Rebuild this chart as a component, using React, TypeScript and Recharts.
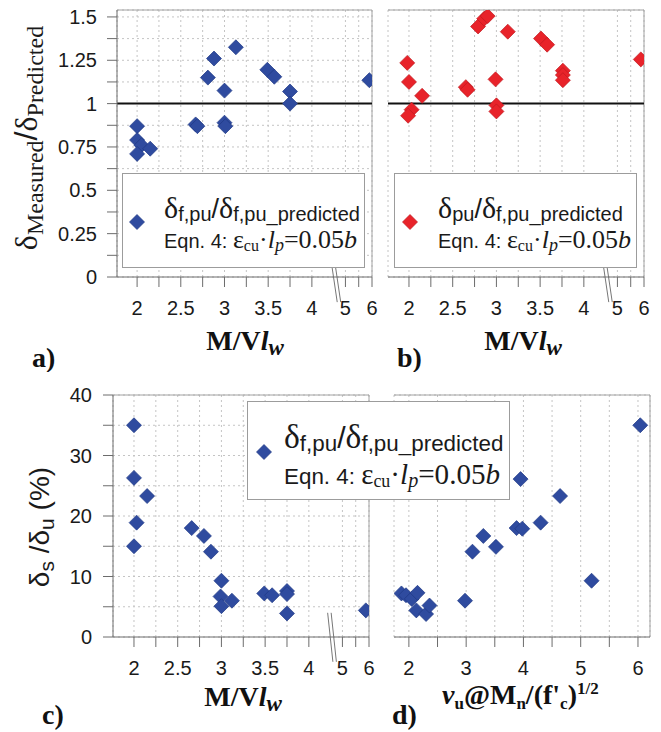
import React from 'react';
import { ScatterChart, Scatter, XAxis, YAxis, CartesianGrid, ReferenceLine, Legend } from 'recharts';

// ---------------- data ----------------
// Panel a: delta_f,pu / delta_f,pu_predicted vs M/Vlw
const aMVl = [2.0, 2.0, 2.05, 2.0, 2.15, 2.67, 2.69, 2.81, 2.88, 3.0, 3.0, 3.01, 3.13, 3.49, 3.57, 3.75, 3.75, 5.9];
const aRatio = [0.87, 0.79, 0.76, 0.71, 0.74, 0.88, 0.87, 1.15, 1.26, 1.075, 0.89, 0.87, 1.325, 1.195, 1.155, 1.07, 1.0, 1.135];

// Panel b: delta_pu / delta_f,pu_predicted vs M/Vlw
const bMVl = [1.98, 2.0, 2.15, 2.03, 1.99, 2.65, 2.67, 2.79, 2.86, 2.9, 3.13, 2.99, 3.0, 3.0, 3.51, 3.58, 3.76, 3.76, 3.76, 5.88];
const bRatio = [1.235, 1.125, 1.045, 0.965, 0.93, 1.095, 1.08, 1.445, 1.49, 1.505, 1.415, 1.14, 0.99, 0.955, 1.375, 1.34, 1.19, 1.165, 1.135, 1.255];

// Panel c: delta_s/delta_u (%) vs M/Vlw
const cMVl = [2.0, 2.0, 2.15, 2.03, 2.0, 2.66, 2.8, 2.88, 3.0, 2.99, 3.0, 3.12, 3.49, 3.58, 3.75, 3.75, 3.75, 5.88];
const cDrift = [35.0, 26.3, 23.3, 18.9, 15.0, 18.0, 16.7, 14.1, 9.3, 6.7, 5.1, 6.0, 7.2, 6.9, 7.6, 7.1, 3.9, 4.4];

// Panel d: delta_s/delta_u (%) vs vu@Mn/(f'c)^1/2
const dShear = [6.04, 3.95, 4.64, 4.3, 3.88, 3.98, 3.3, 3.52, 3.11, 5.19, 2.98, 1.87, 1.95, 2.05, 2.15, 2.13, 2.3, 2.36];
const dDrift = [35.0, 26.1, 23.3, 18.9, 18.0, 17.9, 16.7, 14.9, 14.1, 9.3, 6.0, 7.2, 6.9, 6.3, 7.3, 4.4, 3.8, 5.2];

// ---------------- ticks ----------------
const mvlTickValues = [2, 2.25, 2.5, 2.75, 3, 3.25, 3.5, 3.75, 4, 5, 5.5, 6];
const mvlTickLabels = ['2', '', '2.5', '', '3', '', '3.5', '', '4', '5', '', '6'];
const ratioTickValues = [0, 0.125, 0.25, 0.375, 0.5, 0.625, 0.75, 0.875, 1, 1.125, 1.25, 1.375, 1.5];
const ratioTickLabels = ['0', '', '0.25', '', '0.5', '', '0.75', '', '1', '', '1.25', '', '1.5'];
const driftTickValues = [0, 5, 10, 15, 20, 25, 30, 35, 40];
const driftTickLabels = ['0', '', '10', '', '20', '', '30', '', '40'];
const shearTickValues = [2, 2.5, 3, 3.5, 4, 4.5, 5, 5.5, 6];
const shearTickLabels = ['2', '', '3', '', '4', '', '5', '', '6'];

// ---------------- broken M/Vlw axis ----------------
const BREAK_LOW = 4;
const BREAK_HIGH = 5;
const BREAK_GAP = 0.384;
const COMPRESS = 0.304;
const toAxis = (v: number) =>
  v <= BREAK_LOW
    ? v
    : v >= BREAK_HIGH
    ? BREAK_LOW + BREAK_GAP + (v - BREAK_HIGH) * COMPRESS
    : BREAK_LOW + ((v - BREAK_LOW) / (BREAK_HIGH - BREAK_LOW)) * BREAK_GAP;
const MVL_MAX = toAxis(6);

const makeFmt = (values: number[], labels: string[], map: (v: number) => number = (v) => v) => (v: number) => {
  const i = values.findIndex((t) => Math.abs(map(t) - v) < 1e-6);
  return i >= 0 ? labels[i] : '';
};
const fmtMvl = makeFmt(mvlTickValues, mvlTickLabels, toAxis);
const fmtRatio = makeFmt(ratioTickValues, ratioTickLabels);
const fmtDrift = makeFmt(driftTickValues, driftTickLabels);
const fmtShear = makeFmt(shearTickValues, shearTickLabels);
const mvlTicks = mvlTickValues.map(toAxis);

const aData = aMVl.map((x, i) => ({ x: toAxis(x), y: aRatio[i] }));
const bData = bMVl.map((x, i) => ({ x: toAxis(x), y: bRatio[i] }));
const cData = cMVl.map((x, i) => ({ x: toAxis(x), y: cDrift[i] }));
const dData = dShear.map((x, i) => ({ x, y: dDrift[i] }));

// ---------------- styles ----------------
const SERIF = '"Liberation Serif", "Times New Roman", serif';
const SANS = '"Liberation Sans", Arial, sans-serif';
const BLUE = '#2f4b9f';
const BLUE_EDGE = '#203a85';
const RED = '#e8232a';
const RED_EDGE = '#c01a20';
const AXIS = '#6c6c6c';
const FRAME = '#a2a2a2';
const GRID = '#c4c4c4';
const TICK = { fill: '#1a1a1a', fontSize: 20, fontFamily: SANS };

const diamondShape = (fill: string, edge: string, r = 7.5) => (p: any) => {
  const { cx, cy } = p;
  if (typeof cx !== 'number' || typeof cy !== 'number') return <g />;
  return (
    <path
      d={`M${cx} ${cy - r}L${cx + r} ${cy}L${cx} ${cy + r}L${cx - r} ${cy}Z`}
      fill={fill}
      stroke={edge}
      strokeWidth={0.7}
    />
  );
};
const blueDiamond = diamondShape(BLUE, BLUE_EDGE);
const redDiamond = diamondShape(RED, RED_EDGE);

// break marks "//" on the M/Vlw axis, in axis units
const breakMarks = (c: number, yTop: number, yBottom: number) =>
  [0, 0.04].map((d) => (
    <ReferenceLine
      key={`brk${d}`}
      segment={[
        { x: c - 0.03 + d, y: yTop },
        { x: c + 0.03 + d, y: yBottom },
      ]}
      stroke="#777"
      strokeWidth={1}
      ifOverflow="visible"
    />
  ));

// ---------------- titles ----------------
const MvlTitle = (props: any) => {
  const { titleX, titleY, tag, tagX, tagY } = props;
  return (
    <g>
      <text x={titleX} y={titleY} textAnchor="middle" fontFamily={SERIF} fontWeight="bold" fontSize={28} fill="#111">
        M/V
        <tspan fontStyle="italic">l</tspan>
        <tspan fontStyle="italic" fontSize={23} dy={5}>
          w
        </tspan>
      </text>
      <text x={tagX} y={tagY} fontFamily={SERIF} fontWeight="bold" fontSize={28} fill="#111">
        {tag}
      </text>
    </g>
  );
};

const ShearTitle = (props: any) => {
  const { titleX, titleY, tag, tagX, tagY } = props;
  return (
    <g>
      <text x={titleX} y={titleY} fontFamily={SERIF} fontWeight="bold" fontSize={28} fill="#111">
        <tspan fontStyle="italic">v</tspan>
        <tspan fontSize={17} dy={5}>u</tspan>
        <tspan dy={-5}>@M</tspan>
        <tspan fontSize={17} dy={5}>n</tspan>
        <tspan dy={-5}>/(f'</tspan>
        <tspan fontSize={17} dy={5}>c</tspan>
        <tspan dy={-5}>)</tspan>
        <tspan fontSize={17} dy={-10}>1/2</tspan>
      </text>
      <text x={tagX} y={tagY} fontFamily={SERIF} fontWeight="bold" fontSize={28} fill="#111">
        {tag}
      </text>
    </g>
  );
};

const RatioTitle = () => (
  <text transform="rotate(-90)" x={-138} y={37} textAnchor="middle" fontFamily={SERIF} fontSize={32} fill="#1a1a1a">
    δ
    <tspan fontSize={24} dy={6}>Measured</tspan>
    <tspan fontFamily={SANS} dy={-6}>/</tspan>
    <tspan>δ</tspan>
    <tspan fontSize={24} dy={6}>Predicted</tspan>
  </text>
);

const DriftTitle = () => (
  <text transform="rotate(-90)" x={-155} y={49} textAnchor="middle" fontFamily={SANS} fontSize={28} fill="#1a1a1a">
    δ
    <tspan fontSize={21} dy={5}>s</tspan>
    <tspan dy={-5}> /δ</tspan>
    <tspan fontSize={21} dy={5}>u</tspan>
    <tspan dy={-5}> (%)</tspan>
  </text>
);

// ---------------- legend boxes ----------------
type LegendSpec = {
  fill: string;
  edge: string;
  first: string;
  s: number;
  mx: number;
  my: number;
  tx: number;
  t1: number;
  t2: number;
};

const LegendBox = ({ spec }: { spec: LegendSpec }) => {
  const s = spec.s;
  const sub = (txt: string, size: number, family = SANS, italic = false) => (
    <span
      style={{
        fontFamily: family,
        fontSize: size * s,
        position: 'relative',
        top: 3 * s,
        fontStyle: italic ? 'italic' : 'normal',
      }}
    >
      {txt}
    </span>
  );
  return (
    <div
      style={{
        width: '100%',
        height: '100%',
        boxSizing: 'border-box',
        background: '#fff',
        border: '1px solid #9c9c9c',
        position: 'relative',
        color: '#1a1a1a',
      }}
    >
      <svg width={20} height={20} style={{ position: 'absolute', left: spec.mx - 10, top: spec.my - 10 }}>
        <path d="M10 2.5L17.5 10L10 17.5L2.5 10Z" fill={spec.fill} stroke={spec.edge} strokeWidth={0.7} />
      </svg>
      <div
        style={{
          position: 'absolute',
          left: spec.tx,
          top: spec.t1,
          whiteSpace: 'nowrap',
          lineHeight: 1,
          fontFamily: SERIF,
          fontSize: 30 * s,
        }}
      >
        δ{sub(spec.first, 20)}
        <span style={{ fontFamily: SANS, fontSize: 27 * s }}>/</span>δ{sub('f,pu_predicted', 20)}
      </div>
      <div
        style={{
          position: 'absolute',
          left: spec.tx,
          top: spec.t2,
          whiteSpace: 'nowrap',
          lineHeight: 1,
          fontFamily: SERIF,
          fontSize: 26 * s,
        }}
      >
        <span style={{ fontFamily: SANS, fontSize: 20 * s }}>Eqn. 4: </span>ε{sub('cu', 16, SERIF)}·
        <i>l</i>
        {sub('p', 18, SERIF, true)}=0.05<i>b</i>
      </div>
    </div>
  );
};

const legendA: LegendSpec = { fill: BLUE, edge: BLUE_EDGE, first: 'f,pu', s: 1, mx: 14, my: 48, tx: 41, t1: 19, t2: 53 };
const legendB: LegendSpec = { fill: RED, edge: RED_EDGE, first: 'pu', s: 1, mx: 15, my: 48, tx: 43, t1: 19, t2: 53 };
const legendC: LegendSpec = { fill: BLUE, edge: BLUE_EDGE, first: 'f,pu', s: 1.12, mx: 16, my: 50, tx: 36, t1: 18, t2: 58 };

export default function App() {
  return (
    <div style={{ position: 'absolute', left: 0, top: 0, width: 661, height: 732, background: '#fff', overflow: 'hidden' }}>
      {/* Panel a */}
      <div style={{ position: 'absolute', left: 0, top: 0 }}>
        <ScatterChart width={380} height={372} margin={{ top: 10, right: 8, bottom: 0, left: 0 }}>
          <CartesianGrid stroke={GRID} strokeDasharray="2 3" />
          <XAxis
            type="number"
            dataKey="x"
            domain={[1.77, MVL_MAX]}
            allowDataOverflow
            ticks={mvlTicks}
            interval={0}
            tickFormatter={fmtMvl}
            height={95}
            tickSize={10}
            tickMargin={14}
            stroke={AXIS}
            tick={TICK}
            label={<MvlTitle titleX={245} titleY={350} tag="a)" tagX={32} tagY={367} />}
          />
          <YAxis
            type="number"
            dataKey="y"
            domain={[0, 1.54]}
            allowDataOverflow
            ticks={ratioTickValues}
            interval={0}
            tickFormatter={fmtRatio}
            width={117}
            tickSize={10}
            tickMargin={10}
            stroke={AXIS}
            tick={TICK}
            label={<RatioTitle />}
          />
          <ReferenceLine y={1.54} stroke={FRAME} ifOverflow="visible" />
          <ReferenceLine x={MVL_MAX} stroke={FRAME} ifOverflow="visible" />
          <ReferenceLine y={1} stroke="#111" strokeWidth={2} />
          {breakMarks(4.26, 0.06, -0.145)}
          <Scatter data={aData} shape={blueDiamond} isAnimationActive={false} />
          <Legend
            content={() => <LegendBox spec={legendA} />}
            layout="horizontal"
            verticalAlign="middle"
            align="center"
            wrapperStyle={{ left: 122, top: 173, width: 243, height: 95, zIndex: 5 }}
          />
        </ScatterChart>
      </div>

      {/* Panel b */}
      <div style={{ position: 'absolute', left: 380, top: 0 }}>
        <ScatterChart width={281} height={372} margin={{ top: 10, right: 17, bottom: 0, left: 8 }}>
          <CartesianGrid stroke={GRID} strokeDasharray="2 3" />
          <XAxis
            type="number"
            dataKey="x"
            domain={[1.76, MVL_MAX]}
            allowDataOverflow
            ticks={mvlTicks}
            interval={0}
            tickFormatter={fmtMvl}
            height={95}
            tickSize={10}
            tickMargin={14}
            stroke={AXIS}
            tick={TICK}
            label={<MvlTitle titleX={143} titleY={350} tag="b)" tagX={17} tagY={367} />}
          />
          <YAxis
            type="number"
            dataKey="y"
            domain={[0, 1.54]}
            allowDataOverflow
            ticks={ratioTickValues}
            interval={0}
            width={0}
            mirror
            tick={false}
            tickSize={9}
            stroke={AXIS}
          />
          <ReferenceLine y={1.54} stroke={FRAME} ifOverflow="visible" />
          <ReferenceLine x={MVL_MAX} stroke={FRAME} ifOverflow="visible" />
          <ReferenceLine y={1} stroke="#111" strokeWidth={2} />
          {breakMarks(4.255, 0.06, -0.145)}
          <Scatter data={bData} shape={redDiamond} isAnimationActive={false} />
          <Legend
            content={() => <LegendBox spec={legendB} />}
            layout="horizontal"
            verticalAlign="middle"
            align="center"
            wrapperStyle={{ left: 14, top: 173, width: 243, height: 95, zIndex: 5 }}
          />
        </ScatterChart>
      </div>

      {/* Panel d (drawn before c so c's legend sits on top) */}
      <div style={{ position: 'absolute', left: 380, top: 372 }}>
        <ScatterChart width={281} height={360} margin={{ top: 23, right: 11, bottom: 0, left: 14 }}>
          <CartesianGrid stroke={GRID} strokeDasharray="2 3" />
          <XAxis
            type="number"
            dataKey="x"
            domain={[1.74, 6.21]}
            allowDataOverflow
            ticks={shearTickValues}
            interval={0}
            tickFormatter={fmtShear}
            height={95}
            tickSize={10}
            tickMargin={14}
            stroke={AXIS}
            tick={TICK}
            label={<ShearTitle titleX={62} titleY={332} tag="d)" tagX={12} tagY={352} />}
          />
          <YAxis
            type="number"
            dataKey="y"
            domain={[0, 40]}
            allowDataOverflow
            ticks={driftTickValues}
            interval={0}
            width={0}
            mirror
            tick={false}
            tickSize={9}
            stroke={AXIS}
          />
          <ReferenceLine y={40} stroke={FRAME} ifOverflow="visible" />
          <ReferenceLine x={6.21} stroke={FRAME} ifOverflow="visible" />
          <Scatter data={dData} shape={blueDiamond} isAnimationActive={false} />
        </ScatterChart>
      </div>

      {/* Panel c */}
      <div style={{ position: 'absolute', left: 0, top: 372 }}>
        <ScatterChart width={380} height={360} margin={{ top: 23, right: 11, bottom: 0, left: 0 }}>
          <CartesianGrid stroke={GRID} strokeDasharray="2 3" />
          <XAxis
            type="number"
            dataKey="x"
            domain={[1.76, MVL_MAX]}
            allowDataOverflow
            ticks={mvlTicks}
            interval={0}
            tickFormatter={fmtMvl}
            height={95}
            tickSize={10}
            tickMargin={14}
            stroke={AXIS}
            tick={TICK}
            label={<MvlTitle titleX={243} titleY={334} tag="c)" tagX={42} tagY={352} />}
          />
          <YAxis
            type="number"
            dataKey="y"
            domain={[0, 40]}
            allowDataOverflow
            ticks={driftTickValues}
            interval={0}
            tickFormatter={fmtDrift}
            width={113}
            tickSize={10}
            tickMargin={11}
            stroke={AXIS}
            tick={TICK}
            label={<DriftTitle />}
          />
          <ReferenceLine y={40} stroke={FRAME} ifOverflow="visible" />
          <ReferenceLine x={MVL_MAX} stroke={FRAME} ifOverflow="visible" />
          {breakMarks(4.245, 4.0, -4.1)}
          <Scatter data={cData} shape={blueDiamond} isAnimationActive={false} />
          <Legend
            content={() => <LegendBox spec={legendC} />}
            layout="horizontal"
            verticalAlign="middle"
            align="center"
            wrapperStyle={{ left: 247, top: 29, width: 263, height: 99, zIndex: 5 }}
          />
        </ScatterChart>
      </div>
    </div>
  );
}
